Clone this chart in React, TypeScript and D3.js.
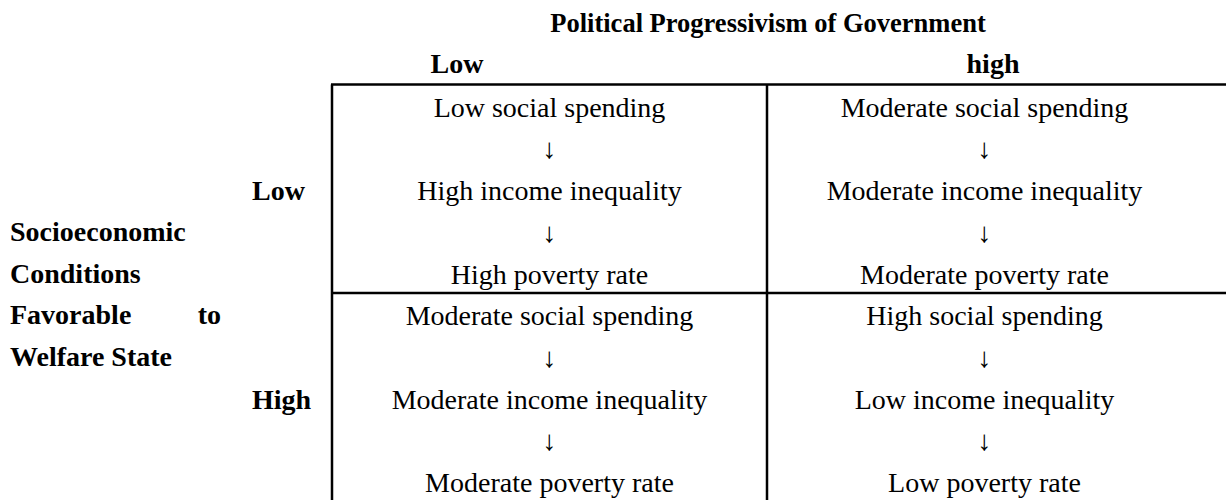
import React from "react";
import * as d3 from "d3";

const title = "Political Progressivism of Government";
const columnLabels = ["Low", "high"];
const rowLabels = ["Low", "High"];
const sideLabelLines = ["Socioeconomic", "Conditions", "Favorable to", "Welfare State"];
const cellTexts = [
  ["Low social spending", "High income inequality", "High poverty rate"],
  ["Moderate social spending", "Moderate income inequality", "Moderate poverty rate"],
  ["Moderate social spending", "Moderate income inequality", "Moderate poverty rate"],
  ["High social spending", "Low income inequality", "Low poverty rate"],
];

const W = 1226;
const H = 500;
const FS = 28;
const FONT = "Liberation Serif";

export default function App() {
  const x = d3.scaleBand<number>().domain([0, 1]).range([332, 1202]);
  const y = d3.scaleBand<number>().domain([0, 1]).range([84.5, 501.5]);
  const lineStep = 41.75;
  const firstOff = 32;

  const cells: { col: number; row: number; lines: string[] }[] = [];
  for (let r = 0; r < 2; r++)
    for (let c = 0; c < 2; c++) cells.push({ row: r, col: c, lines: cellTexts[r * 2 + c] });

  return (
    <svg width={W} height={H} style={{ position: "absolute", left: 0, top: 0, background: "#fff", fontFamily: FONT }}>
      <rect width={W} height={H} fill="#fff" />
      <text x={768} y={32} textAnchor="middle" fontWeight="bold" fontSize={26.5}>{title}</text>
      <text x={457} y={73} textAnchor="middle" fontWeight="bold" fontSize={FS}>{columnLabels[0]}</text>
      <text x={993} y={73} textAnchor="middle" fontWeight="bold" fontSize={FS}>{columnLabels[1]}</text>
      {rowLabels.map((l, i) => (
        <text key={l} x={252} y={y(i)! + firstOff + 2 * lineStep} fontWeight="bold" fontSize={FS}>{l}</text>
      ))}
      {sideLabelLines.map((l, i) => {
        const yy = 241 + i * 41.5;
        if (l === "Favorable to") {
          return (
            <g key={l}>
              <text x={10} y={yy} fontWeight="bold" fontSize={FS}>Favorable</text>
              <text x={221} y={yy} textAnchor="end" fontWeight="bold" fontSize={FS}>to</text>
            </g>
          );
        }
        return <text key={l} x={10} y={yy} fontWeight="bold" fontSize={FS}>{l}</text>;
      })}
      <line x1={331} x2={W} y1={84.5} y2={84.5} stroke="#000" strokeWidth={2.5} />
      <line x1={331} x2={W} y1={y(1)!} y2={y(1)!} stroke="#000" strokeWidth={2.5} />
      <line x1={332} x2={332} y1={84.5} y2={H} stroke="#000" strokeWidth={2.5} />
      <line x1={x(1)!} x2={x(1)!} y1={84.5} y2={H} stroke="#000" strokeWidth={2.5} />
      {cells.map((c, i) => {
        const cx = x(c.col)! + x.bandwidth() / 2;
        const top = y(c.row)!;
        const items = [c.lines[0], "↓", c.lines[1], "↓", c.lines[2]];
        return (
          <g key={i}>
            {items.map((t, j) => (
              <text key={j} x={cx} y={top + firstOff + j * lineStep} textAnchor="middle" fontSize={FS}>{t}</text>
            ))}
          </g>
        );
      })}
    </svg>
  );
}
